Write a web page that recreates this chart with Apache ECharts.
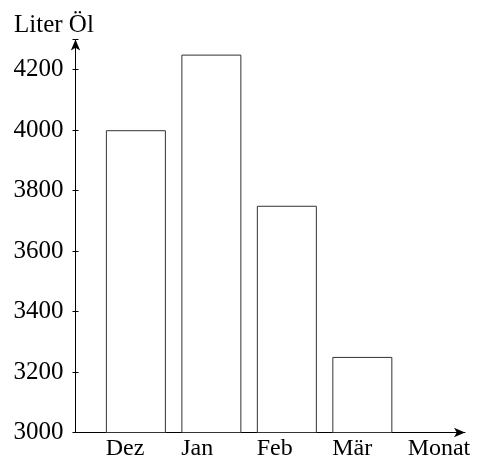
<!DOCTYPE html>
<html lang="de">
<head>
    <meta charset="UTF-8">
    <script src="https://cdn.jsdelivr.net/npm/echarts@6/dist/echarts.min.js"></script>
    <style>
        html, body { margin: 0; padding: 0; background: #fff; }
        #pic { width: 481px; height: 457px; }
    </style>
    <title>Liter Öl</title>
</head>
<body>
<div id="pic"></div>
<script type="text/javascript">
    // Daten
    var months = ['Dez', 'Jan', 'Feb', 'Mär'];
    var liters = [4000, 4250, 3750, 3250];
    var xName = 'Monat';
    var yName = 'Liter Öl';
    var yTicks = [3000, 3200, 3400, 3600, 3800, 4000, 4200];

    var font = 'Liberation Serif';
    var xLabels = months.concat([xName]);

    var chartDom = document.getElementById('pic');
    var myChart = echarts.init(chartDom);

    // Balken bei x = 1..4, Beschriftung linksbündig an der Balkenkante
    var barData = months.map(function (m, i) { return [i + 1, liters[i]]; });
    var labelPos = xLabels.map(function (m, i) { return i + 1 - 0.4; });

    var option = {
        animation: false,
        title: {
            text: yName,
            left: 14,
            top: 13,
            padding: 0,
            textStyle: { fontFamily: font, fontSize: 25, fontWeight: 'normal', color: '#000' }
        },
        grid: { left: 75.5, right: 16, top: 39.5, bottom: 24.5, outerBoundsMode: 'none' },
        xAxis: {
            type: 'value',
            min: 0.2,
            max: 5.36,
            splitLine: { show: false },
            axisLine: {
                show: true,
                lineStyle: { color: '#000', width: 1 },
                symbol: ['none', 'arrow'],
                symbolSize: [7, 11]
            },
            axisTick: { show: false },
            axisLabel: {
                customValues: labelPos,
                align: 'left',
                margin: 4,
                fontFamily: font,
                fontSize: 24,
                color: '#000',
                hideOverlap: false,
                formatter: function (v) {
                    return xLabels[Math.round(v + 0.4) - 1];
                }
            }
        },
        yAxis: [{
            type: 'value',
            min: 3000,
            max: 4300,
            interval: 200,
            splitLine: { show: false },
            axisLine: {
                show: true,
                lineStyle: { color: '#000', width: 1 },
                symbol: ['none', 'arrow'],
                symbolSize: [7, 11]
            },
            axisTick: { show: true, length: 3, lineStyle: { color: '#000' } },
            axisLabel: {
                margin: 12,
                fontFamily: font,
                fontSize: 25,
                color: '#000',
                customValues: yTicks,
                formatter: function (v) { return String(v); }
            }
        }, {
            // innere Hälfte der Teilstriche
            type: 'value',
            position: 'left',
            min: 3000,
            max: 4300,
            interval: 200,
            splitLine: { show: false },
            axisLine: { show: false },
            axisTick: { show: true, inside: true, length: 3, lineStyle: { color: '#000' } },
            axisLabel: { show: false }
        }],
        series: [{
            type: 'bar',
            data: barData,
            barWidth: 60,
            itemStyle: { color: '#fff', borderColor: '#333', borderWidth: 1 }
        }]
    };

    option && myChart.setOption(option);
</script>
</body>
</html>
